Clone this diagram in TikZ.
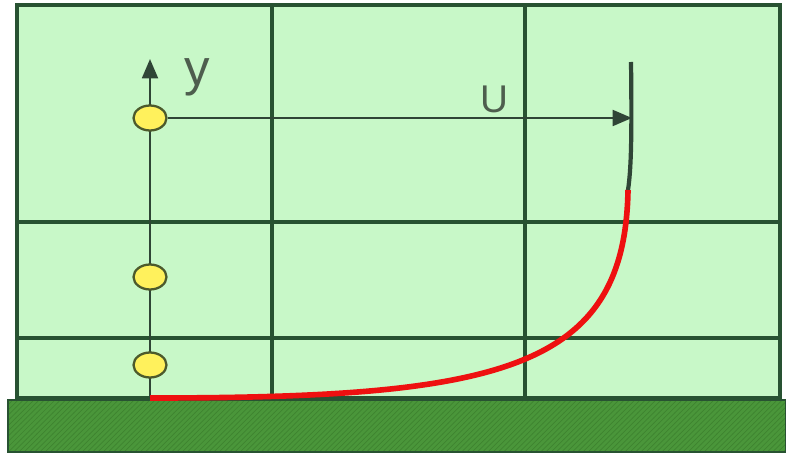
\documentclass[tikz,border=0pt]{standalone}
\usepackage{fontspec}
\setmainfont{Liberation Sans}
\usetikzlibrary{shapes.geometric,arrows.meta,patterns}
\definecolor{bg}{HTML}{C8F8C8}
\definecolor{gridc}{HTML}{285232}
\definecolor{groundc}{HTML}{4A963A}
\definecolor{hatchc}{HTML}{3E8430}
\definecolor{dotc}{HTML}{FFF15C}
\definecolor{dotline}{HTML}{4C5A2C}
\definecolor{axisc}{HTML}{2F4536}
\definecolor{lblc}{HTML}{4E5E4E}
\definecolor{profc}{HTML}{EE1010}
\begin{document}
\begin{tikzpicture}[x=0.02cm,y=-0.02cm,
 gridline/.style={draw=gridc,line width=2pt},
 pt/.style={ellipse,draw=dotline,fill=dotc,line width=1.3pt,minimum width=0.66cm,minimum height=0.5cm,inner sep=0pt},
 axisline/.style={draw=axisc,line width=1.4pt},
 tipstyle/.style={-{Triangle[length=11pt,width=9pt]}},
 lab/.style={text=lblc,inner sep=0pt}]
\useasboundingbox (0,0) rectangle (786,455);
\fill[white] (0,0) rectangle (786,455);
% field
\fill[bg] (17,5) rectangle (780,398);
\draw[gridline] (272,5) -- (272,398) (525,5) -- (525,398)
  (17,222) -- (780,222) (17,338) -- (780,338);
\draw[gridline] (17,5) rectangle (780,398);
% ground
\fill[groundc] (8,400) rectangle (786,452);
\fill[pattern=north east lines,pattern color=hatchc] (8,400) rectangle (786,452);
\draw[draw=gridc,line width=1.4pt] (8,400) rectangle (786,452);
% axis
\coordinate (base) at (150,398);
\coordinate (top) at (150,59);
\draw[axisline,tipstyle] (base) -- (top);
\node[pt] (e3) at (150,365) {};
\node[pt] (e2) at (150,277) {};
\node[pt] (e1) at (150,118) {};
\node[lab,font=\fontsize{29}{31}\selectfont] (ly) at (197,77) {y};
% velocity arrow
\coordinate (uend) at (632,118);
\draw[axisline,tipstyle] (e1.east) -- (uend);
\node[lab,font=\fontsize{22}{24}\selectfont] (lu) at (494,99) {U};
% profile
\coordinate (ptop) at (631,62);
\coordinate (pmid) at (628,190);
\draw[draw=axisc,line width=2.4pt] (ptop) .. controls (632,140) and (631,170) .. (pmid);
\draw[draw=profc,line width=3.2pt] (pmid) .. controls (625,370) and (500,398) .. (base);
\end{tikzpicture}
\end{document}
